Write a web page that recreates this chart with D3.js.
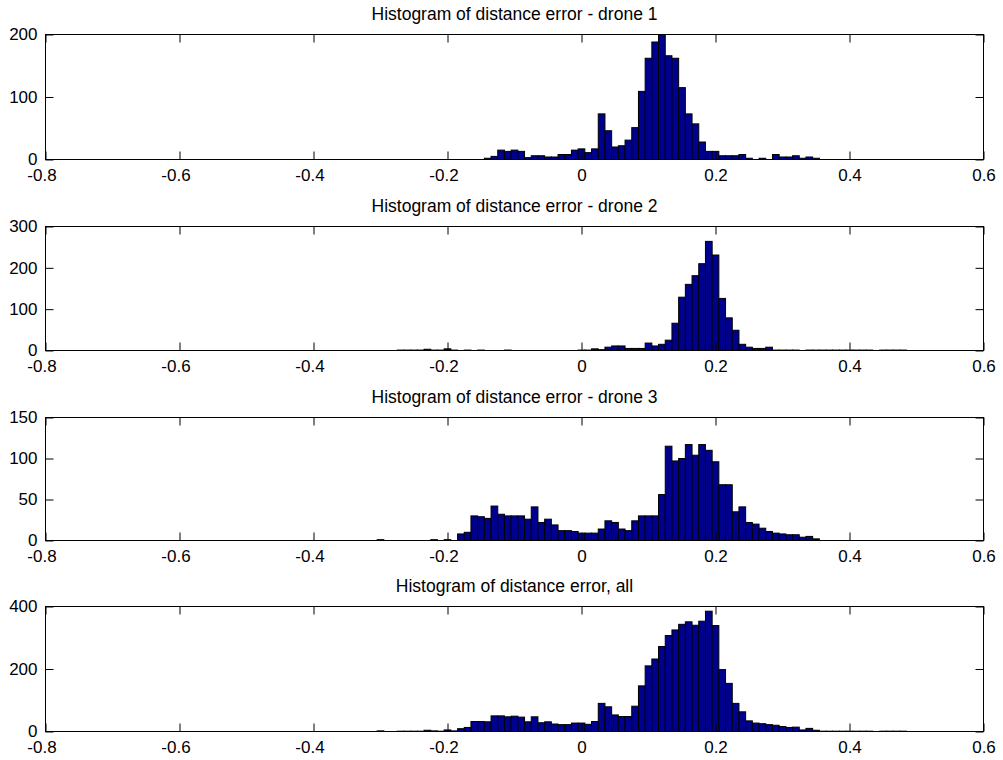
<!DOCTYPE html>
<html>
<head>
<meta charset="utf-8">
<script src="https://cdn.jsdelivr.net/npm/d3@7"></script>
<style>
  html, body { margin: 0; padding: 0; background: #ffffff; }
  svg { display: block; }
  text { font-family: "Liberation Sans", Arial, Helvetica, sans-serif; fill: #000; }
</style>
</head>
<body>
<svg id="chart" width="1003" height="760"></svg>
<script>
// ---- data (bin centers, bin width 0.01) ----
const binCenters = [
  -0.30,-0.29,-0.28,-0.27,-0.26,-0.25,-0.24,-0.23,-0.22,-0.21,
  -0.20,-0.19,-0.18,-0.17,-0.16,-0.15,-0.14,-0.13,-0.12,-0.11,
  -0.10,-0.09,-0.08,-0.07,-0.06,-0.05,-0.04,-0.03,-0.02,-0.01,
   0.00, 0.01, 0.02, 0.03, 0.04, 0.05, 0.06, 0.07, 0.08, 0.09,
   0.10, 0.11, 0.12, 0.13, 0.14, 0.15, 0.16, 0.17, 0.18, 0.19,
   0.20, 0.21, 0.22, 0.23, 0.24, 0.25, 0.26, 0.27, 0.28, 0.29,
   0.30, 0.31, 0.32, 0.33, 0.34, 0.35, 0.36, 0.37, 0.38, 0.39,
   0.40, 0.41, 0.42, 0.43, 0.44, 0.45, 0.46, 0.47, 0.48
];
const binWidth = 0.01;

const countsDrone1 = [
  0,0,0,0,0,0,0,0,0,0,
  0,0,0,0,0,0,2,5,15,13,
  15,13,3,6,6,4,4,8,8,15,
  17,11,17,73,46,20,22,31,51,109,
  162,188,199,166,162,115,73,57,28,13,
  13,6,6,6,8,2,0,2,0,8,
  4,4,6,2,4,2,0,0,0,0,
  0,0,0,0,0,0,0,0,0
];
const countsDrone2 = [
  0,0,0,1,1,1,1,3,1,1,
  4,1,0,1,0,1,0,0,0,1,
  0,0,0,0,0,0,0,0,0,0,
  1,1,4,2,8,11,11,5,5,5,
  18,11,15,25,66,129,160,181,210,264,
  231,126,79,49,15,8,5,5,8,1,
  1,1,1,0,1,1,1,1,1,1,
  1,1,1,1,0,1,1,1,1
];
const countsDrone3 = [
  1,0,0,0,0,0,0,0,1,0,
  1,0,8,10,30,29,27,42,32,30,
  30,30,26,41,22,26,19,12,12,11,
  9,9,9,14,24,22,14,12,24,30,
  30,30,56,115,97,100,117,104,117,110,
  96,68,68,35,41,22,20,15,11,9,
  8,7,7,4,5,2,0,0,0,0,
  0,0,0,0,0,0,0,0,0
];
const countsAll = [
  2,0,0,1,1,1,1,4,2,1,
  5,2,9,13,32,32,31,50,50,47,
  49,46,31,47,28,31,24,22,22,27,
  27,23,32,90,79,53,48,48,81,146,
  210,232,272,307,325,343,351,340,353,385,
  339,198,154,90,63,34,27,25,22,20,
  16,13,14,5,10,4,1,1,1,1,
  1,1,1,1,0,1,1,1,1
];

const titles = [
  "Histogram of distance error - drone 1",
  "Histogram of distance error - drone 2",
  "Histogram of distance error - drone 3",
  "Histogram of distance error, all"
];
const xTicks = [-0.8, -0.6, -0.4, -0.2, 0, 0.2, 0.4, 0.6];
const yTicks1 = [0, 100, 200];
const yTicks2 = [0, 100, 200, 300];
const yTicks3 = [0, 50, 100, 150];
const yTicks4 = [0, 200, 400];
const yMax = [200, 300, 150, 400];

// ---- layout ----
const left = 45.5, right = 983.5;
const panelTop = [34.5, 226.5, 417.5, 606.5];
const panelBottom = [159.5, 350.5, 540.5, 731.5];
const tickLen = 8;
const fontSize = 17;
const barFill = "#00008f";

const series = [countsDrone1, countsDrone2, countsDrone3, countsAll];
const yTickSets = [yTicks1, yTicks2, yTicks3, yTicks4];

const svg = d3.select("#chart");
svg.append("rect").attr("width", 1003).attr("height", 760).attr("fill", "#ffffff");

const x = d3.scaleLinear().domain([-0.8, 0.6]).range([left, right]);

series.forEach((counts, p) => {
  const top = panelTop[p], bottom = panelBottom[p];
  const y = d3.scaleLinear().domain([0, yMax[p]]).range([bottom, top]);
  const g = svg.append("g");

  const bins = binCenters.map((c, i) => ({ c, v: counts[i] })).filter(d => d.v > 0);

  // bars
  g.append("g").selectAll("rect").data(bins).join("rect")
    .attr("x", d => x(d.c - binWidth / 2))
    .attr("width", d => x(d.c + binWidth / 2) - x(d.c - binWidth / 2))
    .attr("y", d => y(d.v))
    .attr("height", d => y(0) - y(d.v))
    .attr("fill", barFill)
    .attr("stroke", "#000")
    .attr("stroke-width", 1);

  // bottom axis
  const ax = g.append("g").attr("transform", `translate(0,${bottom})`)
    .call(d3.axisBottom(x).tickValues(xTicks).tickSizeInner(-tickLen).tickSizeOuter(0)
      .tickPadding(9).tickFormat(d => String(d)));
  ax.selectAll(".tick text").attr("dx", d => d < 0 ? -4 : 0);
  // top axis (ticks only)
  const axT = g.append("g").attr("transform", `translate(0,${top})`)
    .call(d3.axisTop(x).tickValues(xTicks).tickSizeInner(-tickLen).tickSizeOuter(0).tickFormat(""));
  // left axis
  const ay = g.append("g").attr("transform", `translate(${left},0)`)
    .call(d3.axisLeft(y).tickValues(yTickSets[p]).tickSizeInner(-tickLen).tickSizeOuter(0)
      .tickPadding(8).tickFormat(d => String(d)));
  // right axis (ticks only)
  const ayR = g.append("g").attr("transform", `translate(${right},0)`)
    .call(d3.axisRight(y).tickValues(yTickSets[p]).tickSizeInner(-tickLen).tickSizeOuter(0).tickFormat(""));

  [ax, axT, ay, ayR].forEach(a => {
    a.select(".domain").remove();
    a.selectAll("line").attr("stroke", "#000");
    a.selectAll("text")
      .style("font-family", '"Liberation Sans", Arial, sans-serif')
      .style("font-size", fontSize + "px")
      .attr("fill", "#000");
  });

  // box
  g.append("rect")
    .attr("x", left).attr("y", top)
    .attr("width", right - left).attr("height", bottom - top)
    .attr("fill", "none").attr("stroke", "#000").attr("stroke-width", 1);

  // title
  g.append("text")
    .attr("x", (left + right) / 2)
    .attr("y", top - 14.5)
    .attr("text-anchor", "middle")
    .style("font-size", "17.5px")
    .text(titles[p]);
});
</script>
</body>
</html>
